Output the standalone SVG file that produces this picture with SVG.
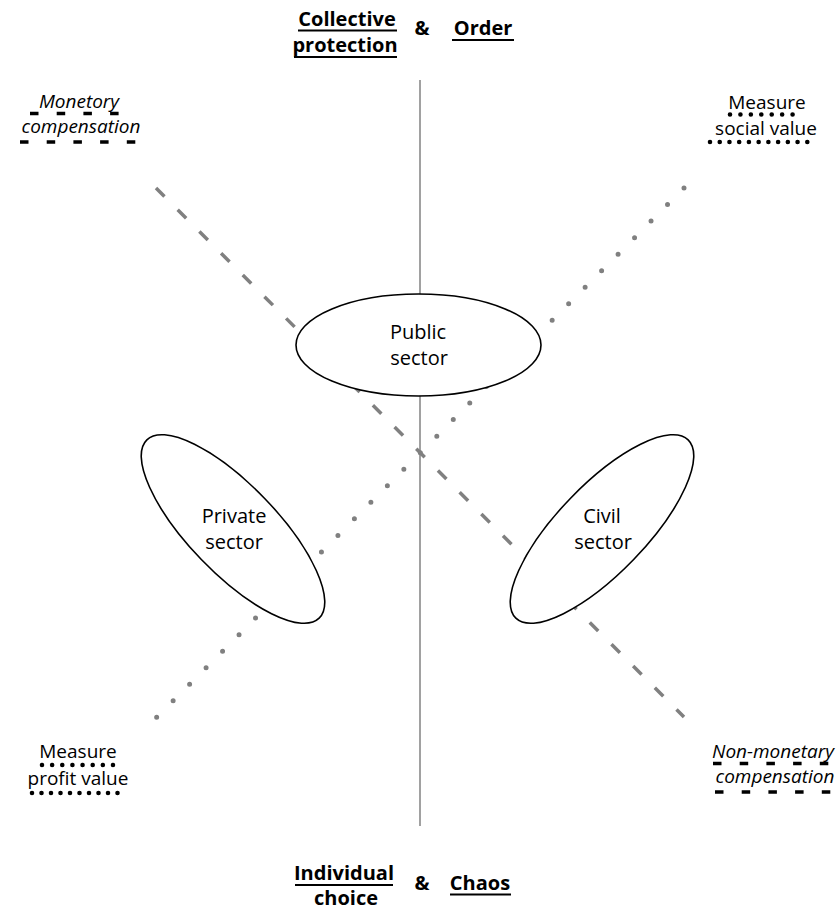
<svg xmlns="http://www.w3.org/2000/svg" width="840" height="912" viewBox="0 0 840 912">
<style>
  .t{font-family:"Open Sans","Noto Sans","Liberation Sans",sans-serif;fill:#000;text-anchor:middle}
  .n{font-size:20px}
  .b{font-size:20px;font-weight:bold}
  .l{font-size:19px}
  .i{font-style:italic}
  .ul{stroke:#000;stroke-width:1.8;fill:none}
  .dash{stroke:#000;stroke-width:3.5;fill:none;stroke-dasharray:8.5 18.2}
  .dot{stroke:#000;stroke-width:4.6;fill:none;stroke-linecap:round}
  .el{fill:#fff;stroke:#000;stroke-width:1.6}
</style>
<rect width="840" height="912" fill="#fff"/>
<g id="connectors">
  <line x1="420" y1="80" x2="420" y2="826" stroke="#8a8a8a" stroke-width="1.6"/>
  <line x1="156" y1="188" x2="684" y2="717" stroke="#808080" stroke-width="3.5" stroke-dasharray="12 18.7"/>
  <line x1="684" y1="188" x2="156" y2="718" stroke="#808080" stroke-width="5" stroke-linecap="round" stroke-dasharray="0 23.35"/>
</g>
<g id="public-sector">
  <ellipse class="el" cx="418.5" cy="345" rx="122.5" ry="51"/>
  <text class="t n" x="418" y="339">Public</text>
  <text class="t n" x="419" y="365">sector</text>
</g>
<g id="private-sector">
  <ellipse class="el" cx="233" cy="529" rx="124" ry="44" transform="rotate(46 233 529)"/>
  <text class="t n" x="234" y="523">Private</text>
  <text class="t n" x="234" y="549">sector</text>
</g>
<g id="civil-sector">
  <ellipse class="el" cx="602" cy="529" rx="124" ry="44" transform="rotate(-46 602 529)"/>
  <text class="t n" x="602" y="523">Civil</text>
  <text class="t n" x="603" y="549">sector</text>
</g>
<g id="collective-protection">
  <text class="t b" x="347" y="26">Collective</text>
  <line class="ul" x1="298" y1="30.5" x2="397" y2="30.5"/>
  <text class="t b" x="345" y="52">protection</text>
  <line class="ul" x1="294" y1="57" x2="397" y2="57"/>
</g>
<g id="amp-top"><text class="t b" x="422" y="35">&amp;</text></g>
<g id="order">
  <text class="t b" x="483" y="35">Order</text>
  <line class="ul" x1="452" y1="40" x2="514" y2="40"/>
</g>
<g id="individual-choice">
  <text class="t b" x="344" y="880">Individual</text>
  <line class="ul" x1="295" y1="885" x2="393" y2="885"/>
  <text class="t b" x="346" y="905">choice</text>
</g>
<g id="amp-bottom"><text class="t b" x="422" y="890">&amp;</text></g>
<g id="chaos">
  <text class="t b" x="480" y="890">Chaos</text>
  <line class="ul" x1="450" y1="894.5" x2="511" y2="894.5"/>
</g>
<g id="monetory-compensation">
  <text class="t l i" x="79" y="108">Monetory</text>
  <line class="dash" x1="30" y1="113.5" x2="120" y2="113.5"/>
  <text class="t l i" x="81" y="133">compensation</text>
  <line class="dash" x1="20" y1="142" x2="137" y2="142"/>
</g>
<g id="measure-social-value">
  <text class="t l" x="767" y="109">Measure</text>
  <line class="dot" x1="730" y1="114.5" x2="803" y2="114.5" stroke-dasharray="0 10.43"/>
  <text class="t l" x="766" y="135">social value</text>
  <line class="dot" x1="710" y1="142" x2="817" y2="142" stroke-dasharray="0 9.73"/>
</g>
<g id="measure-profit-value">
  <text class="t l" x="78" y="758">Measure</text>
  <line class="dot" x1="42" y1="765" x2="113" y2="765" stroke-dasharray="0 10.14"/>
  <text class="t l" x="78" y="785">profit value</text>
  <line class="dot" x1="32" y1="793" x2="127" y2="793" stroke-dasharray="0 9.5"/>
</g>
<g id="non-monetary-compensation">
  <text class="t l i" x="773" y="758">Non-monetary</text>
  <line class="dash" x1="713" y1="763.5" x2="830" y2="763.5"/>
  <text class="t l i" x="775" y="783">compensation</text>
  <line class="dash" x1="715" y1="792" x2="832" y2="792"/>
</g>
</svg>
